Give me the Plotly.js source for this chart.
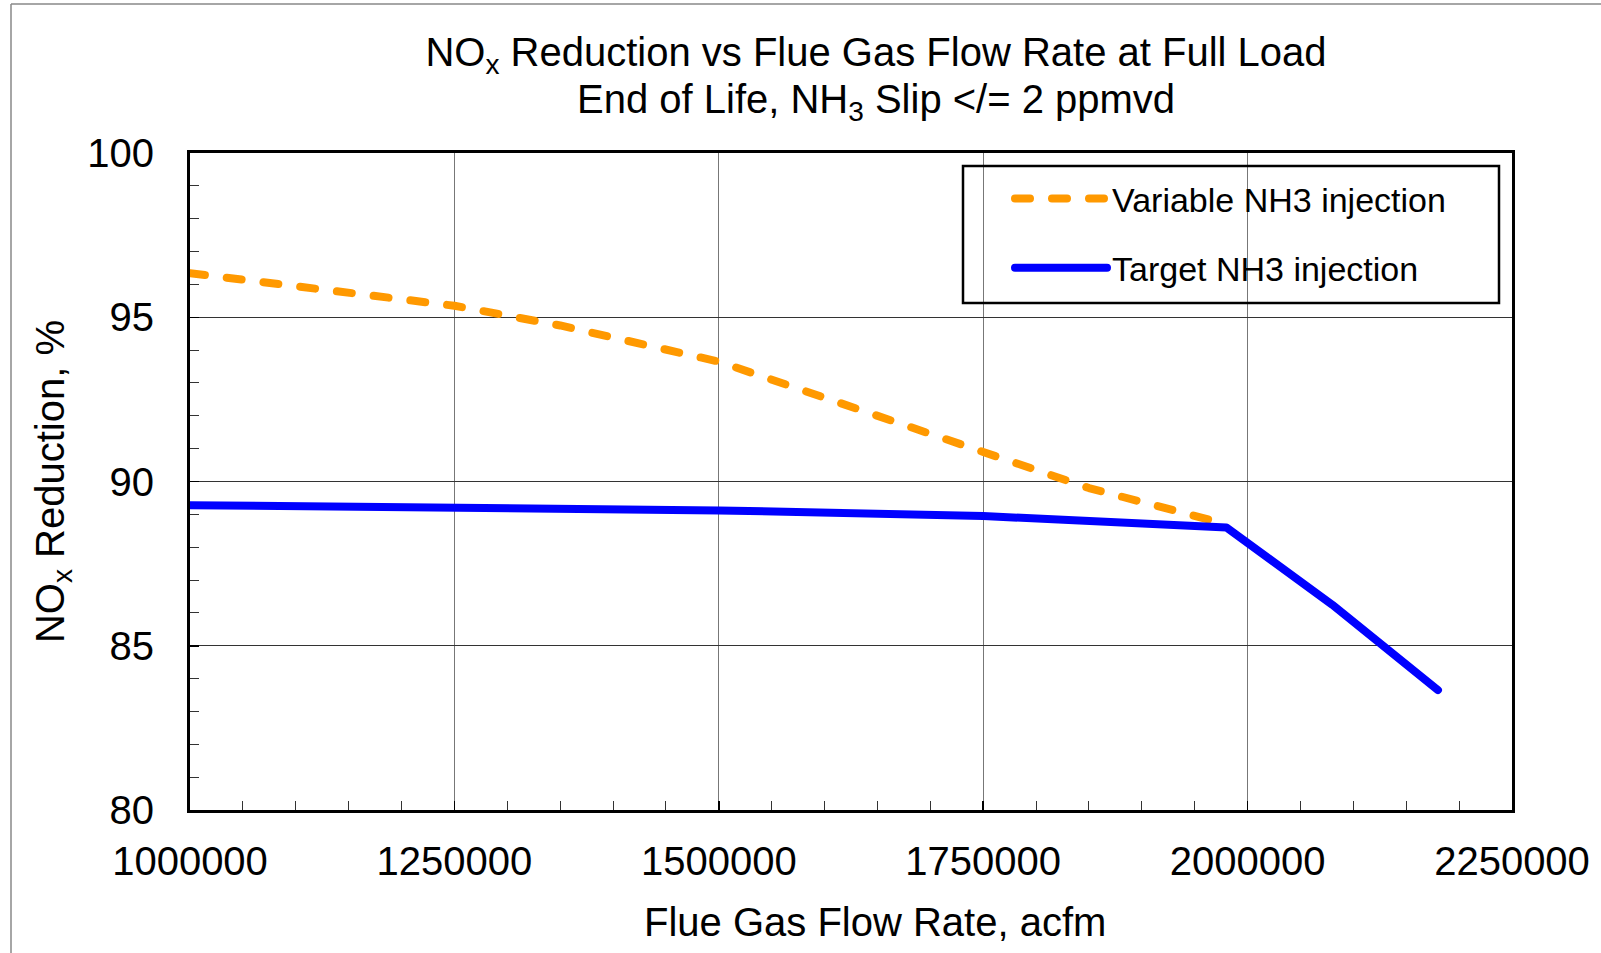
<!DOCTYPE html>
<html><head><meta charset="utf-8">
<script src="https://cdn.plot.ly/plotly-3.0.1.min.js"></script>
<style>
html,body{margin:0;padding:0;background:#fff;}
#chart{width:1601px;height:953px;}
</style></head><body><div id="chart"></div>
<script>
// ---- data ----
const flowVariable = [1000000, 1250000, 1350000, 1500000, 1750000, 1850000, 1980000];
const noxVariable  = [96.34, 95.35, 94.75, 93.65, 90.9, 89.8, 88.7];
const flowTarget   = [1000000, 1250000, 1500000, 1750000, 1980000, 2080000, 2180000];
const noxTarget    = [89.28, 89.23, 89.12, 88.95, 88.6, 86.25, 83.65];
const seriesNames  = ['Variable NH3 injection', 'Target NH3 injection'];
const titleLines   = ['NO<sub>x</sub> Reduction vs Flue Gas Flow Rate at Full Load', 'End of Life, NH<sub>3</sub> Slip &lt;/= 2 ppmvd'];
const xTitle = 'Flue Gas Flow Rate, acfm';
const yTitle = 'NO<sub>x</sub> Reduction, %';

// ---- layout geometry (pixels) ----
const W = 1601, H = 953, L = 190, R = 1512, T = 153, B = 810;
const px = v => (v - L) / (R - L);
const py = v => (B - v) / (B - T);
const FONT = 'Liberation Sans, Arial, sans-serif';
const TXT = s => ({size: s, family: FONT, color: '#000'});

const traces = [
  {x: flowVariable, y: noxVariable, name: seriesNames[0], mode: 'lines', legendgroup: 'a',
   line: {color: '#FF9900', width: 8, dash: '15px,22px'}},
  {x: flowTarget, y: noxTarget, name: seriesNames[1], mode: 'lines', legendgroup: 'b',
   line: {color: '#0000FF', width: 8}}
];

const layout = {
  width: W, height: H,
  margin: {l: L, r: W - R, t: T, b: H - B, pad: 0},
  paper_bgcolor: '#fff', plot_bgcolor: '#fff',
  font: {family: FONT, color: '#000'},
  title: {text: titleLines[0], font: TXT(40),
          x: 876 / W, xanchor: 'center', xref: 'container', y: 1 - 52 / H, yanchor: 'middle', yref: 'container'},
  xaxis: {
    range: [1000000, 2250000], tickmode: 'linear', tick0: 1000000, dtick: 250000, tickformat: 'd',
    showgrid: true, gridcolor: '#777', gridwidth: 1, zeroline: false,
    showline: true, linecolor: '#000', linewidth: 3, mirror: true,
    ticks: 'inside', ticklen: 9, tickwidth: 1.5, tickcolor: '#000',
    minor: {dtick: 50000, ticks: 'inside', ticklen: 9, tickwidth: 1, tickcolor: '#333', showgrid: false},
    tickfont: TXT(40), ticklabelstandoff: 14
  },
  yaxis: {
    range: [80, 100], tickmode: 'linear', tick0: 80, dtick: 5,
    showgrid: true, gridcolor: '#333', gridwidth: 1, zeroline: false,
    showline: true, linecolor: '#000', linewidth: 3, mirror: true,
    ticks: 'inside', ticklen: 9, tickwidth: 1.5, tickcolor: '#000',
    minor: {dtick: 1, ticks: 'inside', ticklen: 9, tickwidth: 1, tickcolor: '#333', showgrid: false},
    tickfont: TXT(40), ticklabelstandoff: 25,
    title: {text: yTitle, font: TXT(40), standoff: 11}
  },
  showlegend: true,
  legend: {x: px(1010), y: py(170), xanchor: 'left', yanchor: 'top', bgcolor: 'rgba(0,0,0,0)',
           borderwidth: 0, font: TXT(34), itemwidth: 92,
           tracegroupgap: 22, traceorder: 'grouped'},
  annotations: [
    {text: titleLines[1], xref: 'paper', yref: 'paper', x: px(876), y: py(102), xanchor: 'center', yanchor: 'middle',
     showarrow: false, font: TXT(40)},
    {text: xTitle, xref: 'paper', yref: 'paper', x: px(875), y: py(922), xanchor: 'center', yanchor: 'middle',
     showarrow: false, font: TXT(40)}
  ],
  shapes: [
    {type: 'rect', xref: 'paper', yref: 'paper', x0: px(963), x1: px(1499), y0: py(303), y1: py(166),
     line: {color: '#000', width: 2.5}, fillcolor: 'rgba(0,0,0,0)', layer: 'above'},
    {type: 'line', xref: 'paper', yref: 'paper', x0: px(11), x1: px(11), y0: py(4), y1: py(953),
     line: {color: '#888', width: 1.5}},
    {type: 'line', xref: 'paper', yref: 'paper', x0: px(11), x1: px(1601), y0: py(4), y1: py(4),
     line: {color: '#888', width: 1.5}}
  ]
};

Plotly.newPlot('chart', traces, layout, {displayModeBar: false, staticPlot: true}).then(gd => {
  gd.querySelectorAll('.scatterlayer path.js-line, .legendlines path').forEach(p => {
    p.style.strokeLinecap = 'round';
    p.style.strokeLinejoin = 'round';
  });
});
</script></body></html>
